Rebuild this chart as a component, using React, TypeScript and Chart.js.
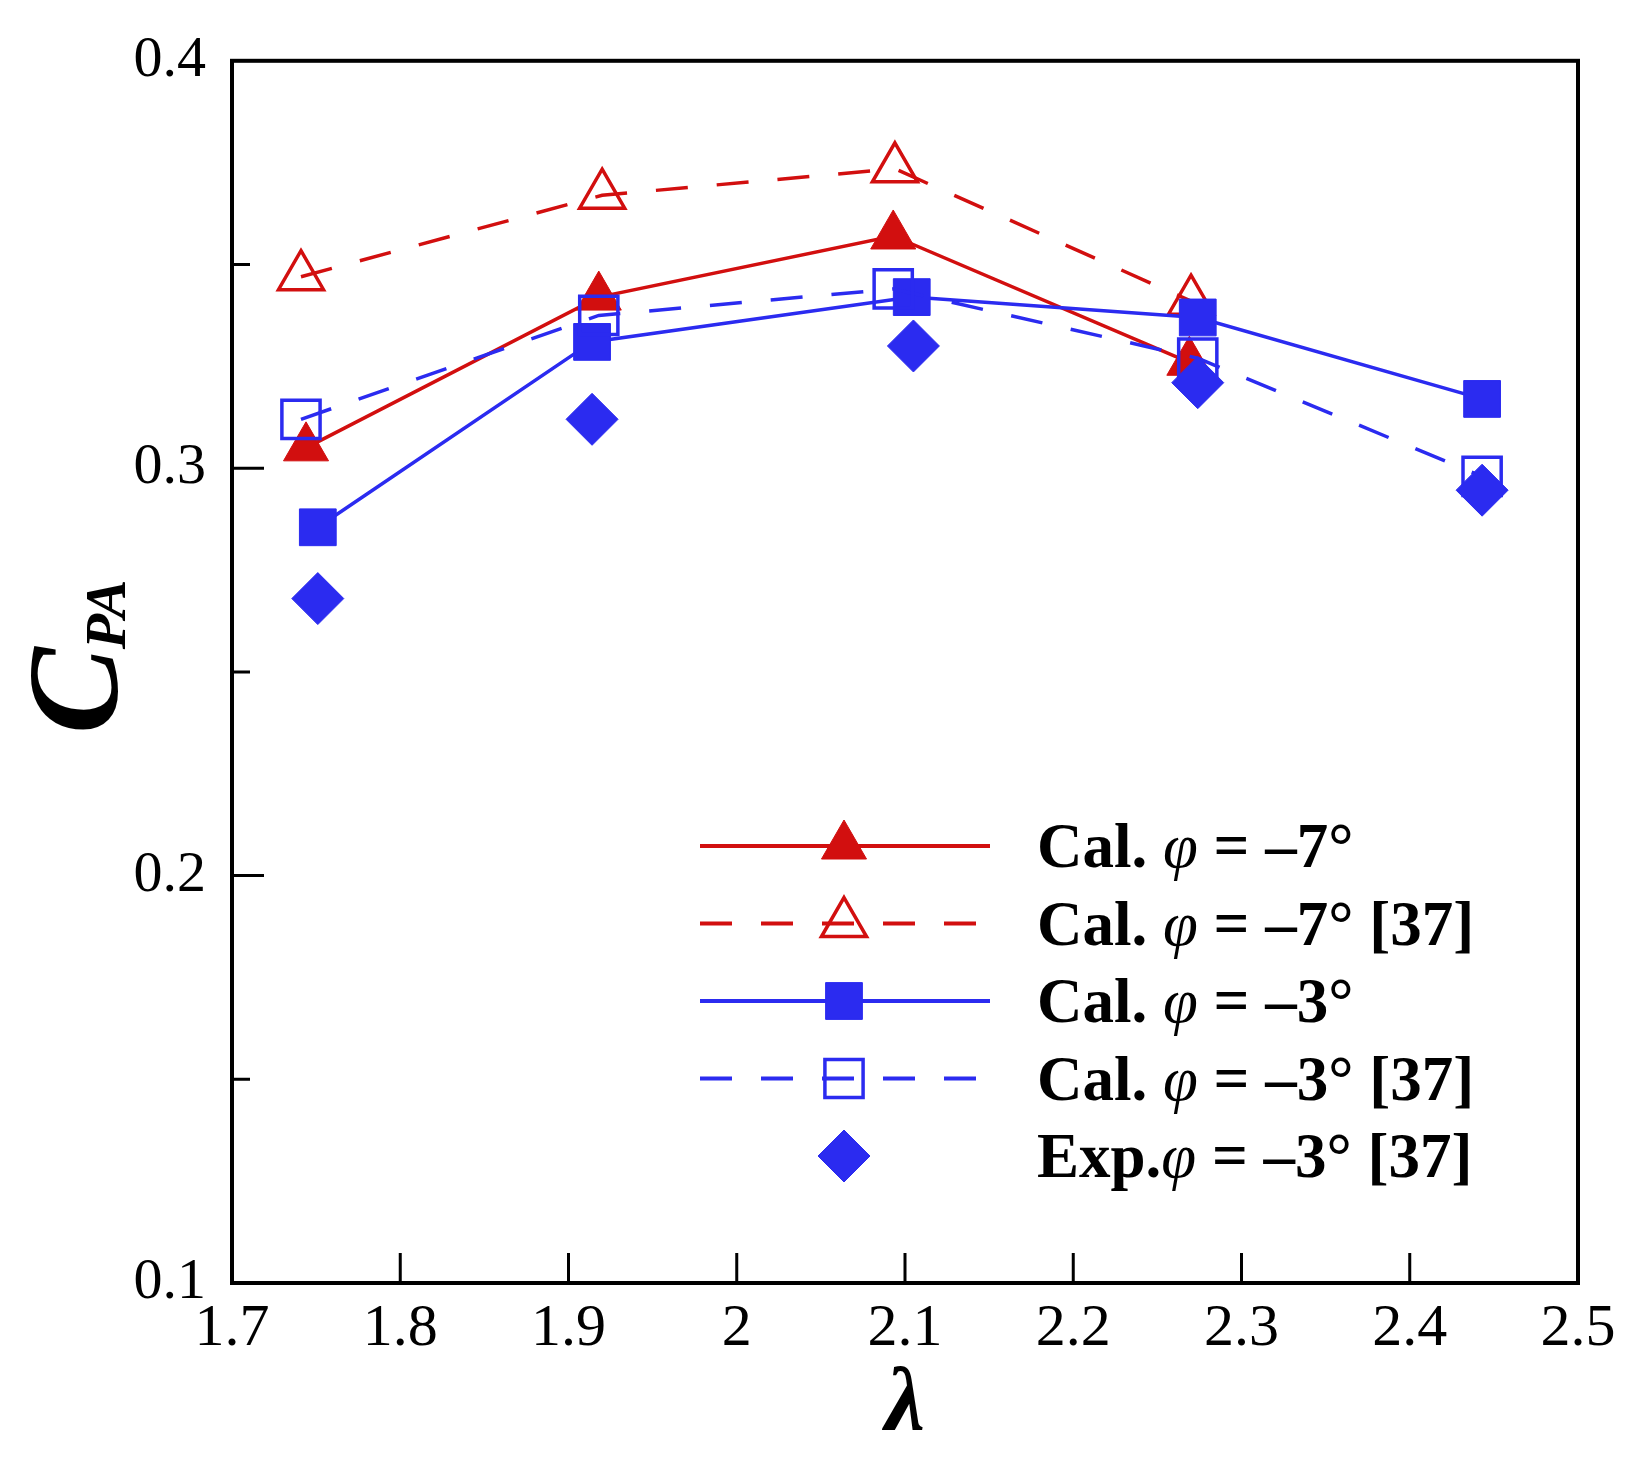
import React, { useEffect, useRef } from 'react';
import { Chart, registerables } from 'chart.js';
import { drawPoint } from 'chart.js/helpers';
Chart.register(...registerables);

const RED = '#d20f0f';
const BLUE = '#2b2bf0';
const SERIF = '"Liberation Serif", "Times New Roman", serif';

// values (λ on x, C_PA on y)
const calM7Lambda = [1.744, 1.918, 2.093, 2.269];
const calM7Cpa = [0.305, 0.342, 0.357, 0.326];
const refM7Lambda = [1.741, 1.92, 2.094, 2.27];
const refM7Cpa = [0.347, 0.367, 0.3735, 0.341];
const calM3Lambda = [1.751, 1.914, 2.104, 2.274, 2.443];
const calM3Cpa = [0.2855, 0.331, 0.342, 0.337, 0.317];
const refM3Lambda = [1.741, 1.918, 2.093, 2.274, 2.443];
const refM3Cpa = [0.312, 0.3375, 0.344, 0.327, 0.298];
const expM3Lambda = [1.751, 1.914, 2.105, 2.274, 2.443];
const expM3Cpa = [0.268, 0.312, 0.33, 0.321, 0.2946];

const xMajorTicks = [1.8, 1.9, 2.0, 2.1, 2.2, 2.3, 2.4];
const yMajorTicks = [0.2, 0.3];
const yMinorTicks = [0.15, 0.25, 0.35];

const pts = (xs: number[], ys: number[]) => xs.map((x, i) => ({ x, y: ys[i] }));

const decorations = {
  id: 'decorations',
  afterDraw(chart: any) {
    const { ctx, chartArea: a, scales } = chart;
    const xs = scales.x;
    const ys = scales.y;
    ctx.save();
    ctx.strokeStyle = '#000';
    ctx.fillStyle = '#000';

    // inward ticks
    ctx.lineWidth = 3;
    ctx.beginPath();
    xMajorTicks.forEach((v) => {
      const px = xs.getPixelForValue(v);
      ctx.moveTo(px, a.bottom);
      ctx.lineTo(px, a.bottom - 30);
    });
    yMajorTicks.forEach((v) => {
      const py = ys.getPixelForValue(v);
      ctx.moveTo(a.left, py);
      ctx.lineTo(a.left + 32, py);
    });
    yMinorTicks.forEach((v) => {
      const py = ys.getPixelForValue(v);
      ctx.moveTo(a.left, py);
      ctx.lineTo(a.left + 18, py);
    });
    ctx.stroke();

    // frame
    ctx.lineWidth = 4;
    ctx.strokeRect(a.left, a.top, a.right - a.left, a.bottom - a.top);

    // y title C_PA
    ctx.save();
    ctx.translate(a.left - 115, 734);
    ctx.rotate(-Math.PI / 2);
    ctx.textAlign = 'left';
    ctx.textBaseline = 'alphabetic';
    ctx.font = `italic bold 130px ${SERIF}`;
    ctx.fillText('C', 0, 0);
    const cw = ctx.measureText('C').width;
    ctx.font = `italic bold 58px ${SERIF}`;
    ctx.fillText('PA', cw - 2, 8);
    ctx.restore();

    // x title λ
    ctx.textAlign = 'center';
    ctx.textBaseline = 'alphabetic';
    ctx.font = `italic bold 90px ${SERIF}`;
    ctx.fillText('λ', (a.left + a.right) / 2, 1430);

    // legend
    chart.data.datasets.forEach((ds: any, i: number) => {
      const yy = 846 + i * 77.5;
      if (ds.showLine !== false) {
        ctx.setLineDash(ds.borderDash || []);
        ctx.lineWidth = 4;
        ctx.strokeStyle = ds.borderColor;
        ctx.beginPath();
        ctx.moveTo(700, yy);
        ctx.lineTo(990, yy);
        ctx.stroke();
      }
      ctx.setLineDash([]);
      ctx.fillStyle = ds.pointBackgroundColor;
      ctx.strokeStyle = ds.pointBorderColor;
      ctx.lineWidth = ds.pointBorderWidth;
      drawPoint(ctx, { pointStyle: ds.pointStyle, radius: ds.pointRadius, rotation: 0, borderWidth: ds.pointBorderWidth }, 844, yy);

      const [pre, post] = ds.label.split('φ');
      let tx = 1037;
      const by = yy + 21;
      ctx.fillStyle = '#000';
      ctx.textAlign = 'left';
      ctx.font = `bold 63px ${SERIF}`;
      ctx.fillText(pre, tx, by);
      tx += ctx.measureText(pre).width;
      ctx.font = `italic 63px ${SERIF}`;
      ctx.fillText('φ', tx, by);
      tx += ctx.measureText('φ').width;
      ctx.font = `bold 63px ${SERIF}`;
      ctx.fillText(post, tx, by);
    });
    ctx.restore();
  },
};

const App = () => {
  const chartRef = useRef(null);

  useEffect(() => {
    const ctx = (chartRef.current as unknown as HTMLCanvasElement).getContext('2d');
    const chart = new Chart(ctx as CanvasRenderingContext2D, {
      type: 'line',
      data: {
        datasets: [
          {
            label: 'Cal. φ = –7°',
            data: pts(calM7Lambda, calM7Cpa),
            borderColor: RED,
            borderWidth: 3.5,
            pointStyle: 'triangle',
            pointRadius: 26,
            pointHoverRadius: 26,
            pointBackgroundColor: RED,
            pointBorderColor: RED,
            pointBorderWidth: 1,
            order: 5,
          },
          {
            label: 'Cal. φ = –7° [37]',
            data: pts(refM7Lambda, refM7Cpa),
            borderColor: RED,
            borderWidth: 3.5,
            borderDash: [32, 29],
            pointStyle: 'triangle',
            pointRadius: 26,
            pointHoverRadius: 26,
            pointBackgroundColor: 'rgba(0,0,0,0)',
            pointBorderColor: RED,
            pointBorderWidth: 3.5,
            order: 4,
          },
          {
            label: 'Cal. φ = –3°',
            data: pts(calM3Lambda, calM3Cpa),
            borderColor: BLUE,
            borderWidth: 3.5,
            pointStyle: 'rect',
            pointRadius: 26,
            pointHoverRadius: 26,
            pointBackgroundColor: BLUE,
            pointBorderColor: BLUE,
            pointBorderWidth: 1,
            order: 3,
          },
          {
            label: 'Cal. φ = –3° [37]',
            data: pts(refM3Lambda, refM3Cpa),
            borderColor: BLUE,
            borderWidth: 3.5,
            borderDash: [32, 29],
            pointStyle: 'rect',
            pointRadius: 27,
            pointHoverRadius: 27,
            pointBackgroundColor: 'rgba(0,0,0,0)',
            pointBorderColor: BLUE,
            pointBorderWidth: 3.5,
            order: 2,
          },
          {
            label: 'Exp.φ = –3° [37]',
            data: pts(expM3Lambda, expM3Cpa),
            showLine: false,
            borderColor: BLUE,
            pointStyle: 'rectRot',
            pointRadius: 26,
            pointHoverRadius: 26,
            pointBackgroundColor: BLUE,
            pointBorderColor: BLUE,
            pointBorderWidth: 1,
            order: 1,
          },
        ],
      },
      options: {
        responsive: true,
        maintainAspectRatio: false,
        animation: false,
        events: [],
        layout: { padding: { top: 53, right: 66, left: 0, bottom: 0 } },
        plugins: {
          legend: { display: false },
          tooltip: { enabled: false },
        },
        scales: {
          x: {
            type: 'linear',
            min: 1.7,
            max: 2.5,
            grid: { display: false, drawTicks: false },
            border: { display: false },
            ticks: {
              stepSize: 0.1,
              autoSkip: false,
              maxRotation: 0,
              padding: 10,
              color: '#000',
              font: { family: SERIF, size: 60 },
              callback: (v: any) => String(Number(Number(v).toFixed(1))),
            },
            afterFit: (s: any) => {
              s.height = 181;
            },
          },
          y: {
            type: 'linear',
            min: 0.1,
            max: 0.4,
            grid: { display: false, drawTicks: false },
            border: { display: false },
            ticks: {
              stepSize: 0.1,
              padding: 26,
              color: '#000',
              font: { family: SERIF, size: 58 },
              callback: (v: any) => Number(v).toFixed(1),
            },
            afterFit: (s: any) => {
              s.width = 232;
            },
          },
        },
      },
      plugins: [decorations],
    } as any);

    return () => {
      chart.destroy();
    };
  }, []);

  return (
    <div style={{ position: 'fixed', left: 0, top: 0, width: 1644, height: 1464, background: '#fff' }}>
      <canvas ref={chartRef}></canvas>
    </div>
  );
};

export default App;
